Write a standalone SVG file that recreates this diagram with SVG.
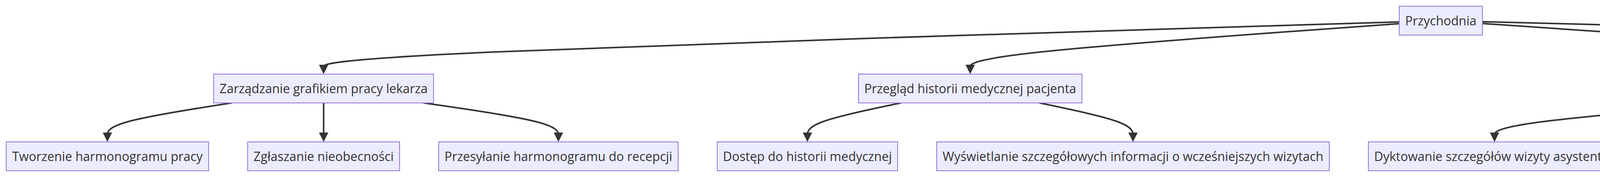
<svg xmlns="http://www.w3.org/2000/svg" width="7856" height="454" viewBox="0 0 7856 454">
<style>
.node rect{fill:#ECECFF;stroke:#9370DB;stroke-width:2}
.node text{font-family:"Open Sans","Liberation Sans",sans-serif;font-size:32px;fill:#333333;text-anchor:middle}
.edge{fill:none;stroke:#333333;stroke-width:4;marker-end:url(#arrow)}
</style>
<defs>
<marker id="arrow" viewBox="0 0 10 10" refX="5" refY="5" markerUnits="userSpaceOnUse" markerWidth="24" markerHeight="24" orient="auto">
<path d="M0,0 L10,5 L0,10 z" fill="#333333"/>
</marker>
</defs>
<rect width="7856" height="454" fill="#ffffff"/>
<g id="connectors">
<path class="edge" d="M3582,56.2 L3123.1,70.2 C2664.2,84.1 1746.3,112.1 1287.4,132.4 C828.5,152.67 828.5,165.33 828.5,171.67 L828.5,178"/>
<path class="edge" d="M3582,60.7 L3399,73.9 C3215.9,87.1 2849.8,113.6 2666.8,133.1 C2483.75,152.67 2483.75,165.33 2483.75,171.67 L2483.75,178"/>
<path class="edge" d="M3795,60.3 L3988.5,73.6 C4182.1,86.9 4569.2,113.4 4762.7,133.05 C4956.25,152.67 4956.25,165.33 4956.25,171.67 L4956.25,178"/>
<path class="edge" d="M3795,55.7 L4349.3,69.75 C4903.6,83.8 6012.2,111.9 6566.5,132.3 C7120.75,152.67 7120.75,165.33 7120.75,171.67 L7120.75,178"/>
<path class="edge" d="M593.1,264 L540.1,272.33 C487.1,280.67 381,297.33 328,312 C275,326.67 275,339.33 275,345.67 L275,352"/>
<path class="edge" d="M828.5,264 L828.5,352"/>
<path class="edge" d="M1084.1,264 L1141.7,272.33 C1199.2,280.67 1314.4,297.33 1371.9,312 C1429.5,326.67 1429.5,339.33 1429.5,345.67 L1429.5,352"/>
<path class="edge" d="M2306.5,264 L2266.6,272.33 C2226.7,280.67 2146.8,297.33 2106.9,312 C2067,326.67 2067,339.33 2067,345.67 L2067,352"/>
<path class="edge" d="M2661,264 L2700.9,272.33 C2740.8,280.67 2820.7,297.33 2860.6,312 C2900.5,326.67 2900.5,339.33 2900.5,345.67 L2900.5,352"/>
<path class="edge" d="M4724.25,244.9 L4574.5,256.4 C4424.8,267.9 4125.4,291 3975.7,308.8 C3826,326.67 3826,339.33 3826,345.67 L3826,352"/>
<path class="edge" d="M4806,264 L4772.2,272.33 C4738.3,280.67 4670.7,297.33 4636.8,312 C4603,326.67 4603,339.33 4603,345.67 L4603,352"/>
<path class="edge" d="M5106.5,264 L5140.3,272.33 C5174.2,280.67 5241.8,297.33 5275.7,312 C5309.5,326.67 5309.5,339.33 5309.5,345.67 L5309.5,352"/>
<path class="edge" d="M5188.25,247 L5317.8,258.2 C5447.3,269.3 5706.4,291.7 5836,309.2 C5965.5,326.67 5965.5,339.33 5965.5,345.67 L5965.5,352"/>
<path class="edge" d="M6953.75,264 L6916.1,272.33 C6878.5,280.67 6803.3,297.33 6765.6,312 C6728,326.67 6728,339.33 6728,345.67 L6728,352"/>
<path class="edge" d="M7287.75,264 L7325.4,272.33 C7363,280.67 7438.3,297.33 7475.9,312 C7513.5,326.67 7513.5,339.33 7513.5,345.67 L7513.5,352"/>
</g>
<g id="n-przychodnia" class="node"><rect x="3582" y="16" width="213" height="74"/><text x="3688.5" y="64.5">Przychodnia</text></g>
<g id="n-zarzadzanie" class="node"><rect x="547" y="190" width="563" height="74"/><text x="828.5" y="238.5">Zarządzanie grafikiem pracy lekarza</text></g>
<g id="n-przeglad" class="node"><rect x="2197.75" y="190" width="572" height="74"/><text x="2483.75" y="238.5">Przegląd historii medycznej pacjenta</text></g>
<g id="n-rejestrowanie" class="node"><rect x="4724.25" y="190" width="464" height="74"/><text x="4956.25" y="238.5">Rejestrowanie danych z wizyt</text></g>
<g id="n-planowanie" class="node"><rect x="6903.75" y="190" width="434" height="74"/><text x="7120.75" y="238.5">Planowanie kolejnych wizyt</text></g>
<g id="n-tworzenie" class="node"><rect x="16" y="364" width="518" height="74"/><text x="275" y="412.5">Tworzenie harmonogramu pracy</text></g>
<g id="n-zglaszanie" class="node"><rect x="634" y="364" width="389" height="74"/><text x="828.5" y="412.5">Zgłaszanie nieobecności</text></g>
<g id="n-przesylanie" class="node"><rect x="1123" y="364" width="613" height="74"/><text x="1429.5" y="412.5">Przesyłanie harmonogramu do recepcji</text></g>
<g id="n-dostep" class="node"><rect x="1836" y="364" width="462" height="74"/><text x="2067" y="412.5">Dostęp do historii medycznej</text></g>
<g id="n-wyswietlanie" class="node"><rect x="2398" y="364" width="1005" height="74"/><text x="2900.5" y="412.5">Wyświetlanie szczegółowych informacji o wcześniejszych wizytach</text></g>
<g id="n-dyktowanie" class="node"><rect x="3503" y="364" width="646" height="74"/><text x="3826" y="412.5">Dyktowanie szczegółów wizyty asystentce</text></g>
<g id="n-zapis-danych" class="node"><rect x="4249" y="364" width="708" height="74"/><text x="4603" y="412.5">Zapis danych w elektronicznej karcie pacjenta</text></g>
<g id="n-informowanie" class="node"><rect x="5057" y="364" width="505" height="74"/><text x="5309.5" y="412.5">Informowanie o kosztach wizyty</text></g>
<g id="n-zapis-koszt" class="node"><rect x="5662" y="364" width="607" height="74"/><text x="5965.5" y="412.5">Zapis informacji o kosztach w systemie</text></g>
<g id="n-okreslanie" class="node"><rect x="6369" y="364" width="718" height="74"/><text x="6728" y="412.5">Określanie zalecanego czasu na kolejną wizytę</text></g>
<g id="n-zapis-termin" class="node"><rect x="7187" y="364" width="653" height="74"/><text x="7513.5" y="412.5">Zapis informacji o terminie kolejnej wizyty</text></g>
</svg>
